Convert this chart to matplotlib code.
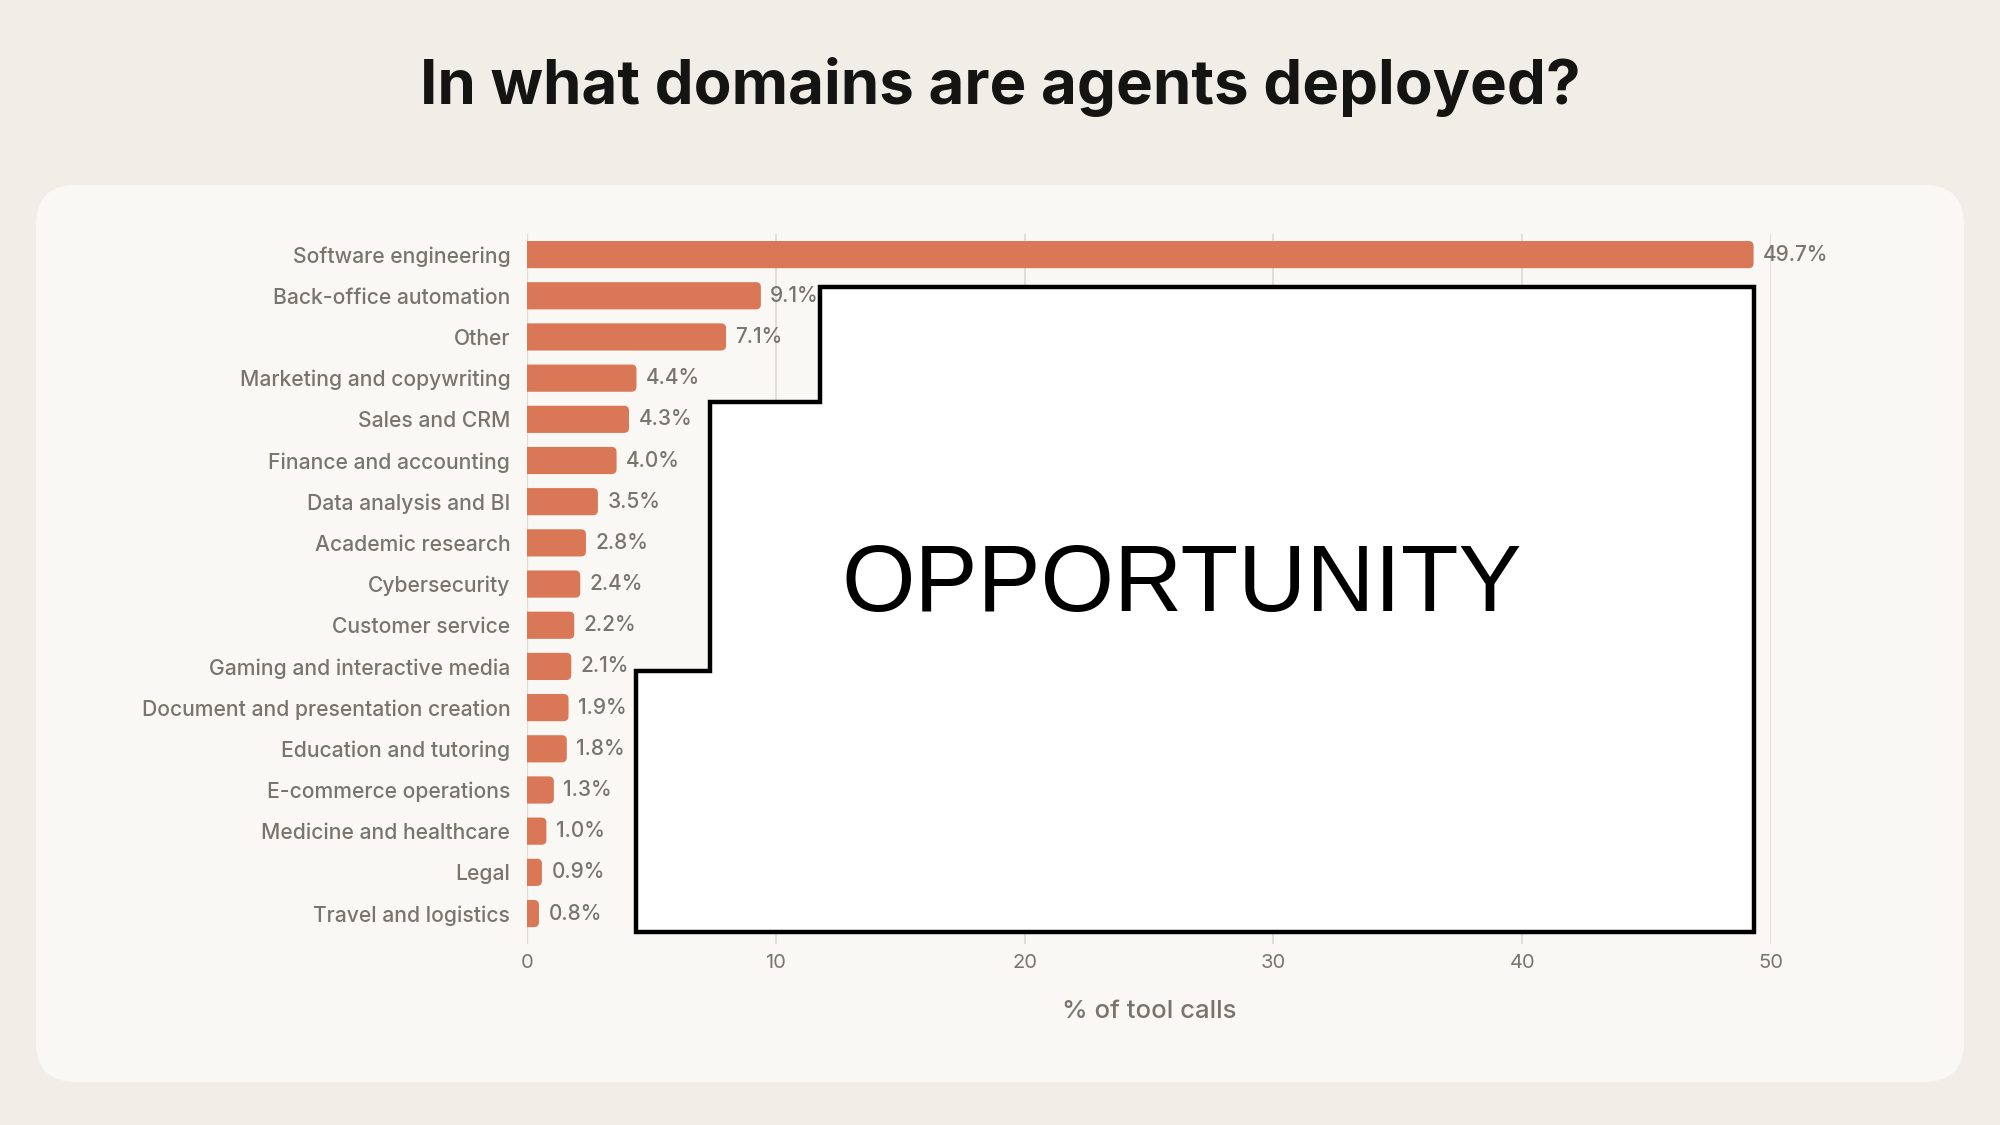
import matplotlib
matplotlib.use('Agg')
import matplotlib.pyplot as plt
from matplotlib.patches import FancyBboxPatch, Polygon

# Data: printed shares and the bar lengths as drawn in the chart
domains = ['Software engineering', 'Back-office automation', 'Other',
           'Marketing and copywriting', 'Sales and CRM', 'Finance and accounting',
           'Data analysis and BI', 'Academic research', 'Cybersecurity',
           'Customer service', 'Gaming and interactive media',
           'Document and presentation creation', 'Education and tutoring',
           'E-commerce operations', 'Medicine and healthcare', 'Legal',
           'Travel and logistics']
shares = [49.7, 9.1, 7.1, 4.4, 4.3, 4.0, 3.5, 2.8, 2.4, 2.2, 2.1, 1.9, 1.8,
          1.3, 1.0, 0.9, 0.8]
bar_len = [49.3, 9.4, 8.0, 4.4, 4.1, 3.6, 2.85, 2.37, 2.14, 1.9, 1.78, 1.67,
           1.6, 1.08, 0.78, 0.6, 0.48]
xticks = [0, 10, 20, 30, 40, 50]

W, H = 2000, 1125
BG = '#F0EEE7'
PANEL = '#F9F8F4'
BAR = '#D97757'
GREY = '#78756D'
GRID = '#DEDCD4'

plt.rcParams['font.family'] = ['Inter', 'DejaVu Sans']

fig = plt.figure(figsize=(W / 100, H / 100), dpi=100)
fig.patch.set_facecolor(BG)


def fx(px):
    return px / W


def fy(py):
    return 1 - py / H


# Panel behind the chart
panel = FancyBboxPatch((fx(36), fy(1082)), fx(1964) - fx(36), fy(185) - fy(1082),
                       boxstyle='round,pad=0,rounding_size=0.02',
                       mutation_aspect=W / H,
                       transform=fig.transFigure, facecolor=PANEL,
                       edgecolor='none', zorder=-5)
fig.patches.append(panel)

fig.text(0.5, fy(87), 'In what domains are agents deployed?', ha='center',
         va='center', fontsize=44.5, fontweight='bold', color='#141413')

ax = fig.add_axes([fx(527), fy(944), fx(1771) - fx(527), fy(234) - fy(944)])
ax.set_facecolor('none')
ax.set_zorder(1)

ypos = list(range(len(domains)))
bars = ax.barh(ypos, bar_len, height=0.66, color=BAR)
ax.set_xlim(0, 50)
ax.set_ylim(16.74, -0.5)

# Rounded bar ends
for rect in bars:
    x, y = rect.get_x(), rect.get_y()
    w, h = rect.get_width(), rect.get_height()
    rect.remove()
    ax.add_patch(FancyBboxPatch((x - 0.3, y), w + 0.3, h,
                                boxstyle='round,pad=0,rounding_size=0.2',
                                mutation_aspect=0.6, facecolor=BAR,
                                edgecolor='none', zorder=3, clip_on=True))

for yv, v, s in zip(ypos, bar_len, shares):
    ax.text(v + 0.38, yv, f'{s:.1f}%', va='center', ha='left', fontsize=15,
            fontweight='medium', color=GREY, zorder=4)

ax.set_yticks(ypos)
ax.set_yticklabels(domains, fontweight='medium')
ax.set_xticks(xticks)
ax.tick_params(axis='y', length=0, pad=12, labelsize=15.2, labelcolor=GREY)
ax.tick_params(axis='x', length=0, pad=7, labelsize=14.5, labelcolor=GREY)
ax.grid(axis='x', color=GRID, lw=1.3, zorder=0)
ax.set_axisbelow(True)
for s in ax.spines.values():
    s.set_visible(False)
ax.axvline(0, color=GRID, lw=1.6, zorder=1)
ax.set_xlabel('% of tool calls', fontsize=18.5, fontweight='medium',
              color=GREY, labelpad=20)

# Overlay box
pts = [(820, 287), (1754, 287), (1754, 932), (636, 932), (636, 671),
       (710, 671), (710, 402), (820, 402)]
overlay = Polygon([(fx(a), fy(b)) for a, b in pts], closed=True,
                  transform=fig.transFigure, facecolor='white',
                  edgecolor='black', lw=3.2, zorder=10)
fig.patches.append(overlay)
fig.text(fx(1182), fy(587), 'OPPORTUNITY', ha='center', va='center',
         fontsize=68, family='Liberation Sans', color='black', zorder=11)

fig.savefig('out.png', dpi=100, facecolor=BG)
